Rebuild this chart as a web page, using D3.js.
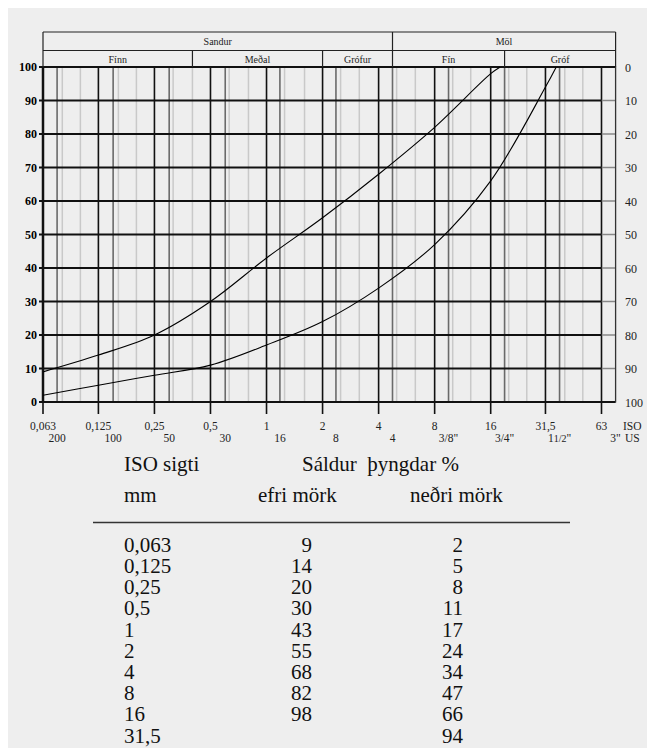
<!DOCTYPE html>
<html>
<head>
<meta charset="utf-8">
<script src="https://cdn.jsdelivr.net/npm/d3@7"></script>
<style>
    body { margin: 0; background: #ffffff; }
    svg { display: block; }
</style>
</head>
<body>
<div id="plot"></div>
<script>
// ISO sieves (mm) - main grid lines and the upper label row
const iso_sieves = [0.063, 0.125, 0.25, 0.5, 1, 2, 4, 8, 16, 31.5, 63];
const iso_labels = ["0,063", "0,125", "0,25", "0,5", "1", "2", "4", "8", "16", "31,5", "63"];
// US sieves (mm) - dark gray lines and the lower label row
const us_sieves = [0.075, 0.15, 0.3, 0.6, 1.18, 2.36, 4.75, 9.5, 19, 37.5, 75];
const us_labels = ["200", "100", "50", "30", "16", "8", "4", "3/8\"", "3/4\"", "11/2\"", "3\""];
// intermediate sieves - light lines
const minor_sieves = [0.08, 0.1, 0.16, 0.2, 0.315, 0.4, 0.63, 0.8, 1.25, 1.6, 2.5, 3.15,
    5, 6.3, 10, 12.5, 20, 25, 40, 50];
const pct_ticks = [0, 10, 20, 30, 40, 50, 60, 70, 80, 90, 100];

// grading envelope (table + curves)
const table_sieves = [0.063, 0.125, 0.25, 0.5, 1, 2, 4, 8, 16, 31.5];
const table_labels = ["0,063", "0,125", "0,25", "0,5", "1", "2", "4", "8", "16", "31,5"];
const upper_pct = [9, 14, 20, 30, 43, 55, 68, 82, 98];
const lower_pct = [2, 5, 8, 11, 17, 24, 34, 47, 66, 94];
// where each curve reaches 100 %
const upper_end = [18, 100];
const lower_end = [36, 100];

// soil classes in the header
const main_classes = [
    { name: "Sandur", from: 0.063, to: 4.75 },
    { name: "Möl", from: 4.75, to: 75 }
];
const sub_classes = [
    { name: "Fínn", from: 0.063, to: 0.4 },
    { name: "Meðal", from: 0.4, to: 2 },
    { name: "Grófur", from: 2, to: 4.75 },
    { name: "Fín", from: 4.75, to: 19 },
    { name: "Gróf", from: 19, to: 75 }
];

const width = 647;
const height = 748;
const serif = "Liberation Serif, Times New Roman, serif";

const x = d3.scaleLog().domain([0.063, 63]).range([43, 601.5]);
const y = d3.scaleLinear().domain([0, 100]).range([402, 67]);
const x_end = x(75);

const svg = d3.select("#plot").append("svg")
    .attr("width", width)
    .attr("height", height)
    .attr("font-family", serif);

// gray page with a thin white margin top/left
svg.append("rect")
    .attr("x", 8).attr("y", 8)
    .attr("width", width - 8).attr("height", height - 8)
    .attr("fill", "#eeeeee");

/**
 * vertical sieve lines
 */
const vlines = function (values, color, w, y_bottom) {
    svg.append("g")
        .attr("stroke", color)
        .attr("stroke-width", w)
        .selectAll("line")
        .data(values)
        .join("line")
        .attr("x1", d => x(d)).attr("x2", d => x(d))
        .attr("y1", y(100)).attr("y2", y_bottom);
}
vlines(minor_sieves, "#c9c9c9", 1.5, y(0));
vlines(us_sieves.slice(0, -1), "#6a6a6a", 1.6, y(0));
vlines(iso_sieves, "#111", 1.6, y(0) + 12);

// horizontal lines: black over the ISO range, gray stub up to 3"
svg.append("g")
    .selectAll("line")
    .data(pct_ticks.filter(d => d > 0 && d < 100))
    .join("line")
    .attr("x1", x(63)).attr("x2", x_end)
    .attr("y1", d => y(d)).attr("y2", d => y(d))
    .attr("stroke", "#888").attr("stroke-width", 1.5);
svg.append("g")
    .selectAll("line")
    .data(pct_ticks)
    .join("line")
    .attr("x1", 39)
    .attr("x2", d => (d === 0 || d === 100) ? x_end : x(63))
    .attr("y1", d => y(d)).attr("y2", d => y(d))
    .attr("stroke", "#111").attr("stroke-width", 2);

// frame
svg.append("line")
    .attr("x1", x(0.063)).attr("x2", x(0.063))
    .attr("y1", y(100)).attr("y2", y(0))
    .attr("stroke", "#111").attr("stroke-width", 2.5);
svg.append("line")
    .attr("x1", x_end).attr("x2", x_end)
    .attr("y1", y(100) - 0.5).attr("y2", y(0) + 0.5)
    .attr("stroke", "#333").attr("stroke-width", 1.3);

// grading curves
const line = d3.line()
    .x(d => x(d[0]))
    .y(d => y(d[1]))
    .curve(d3.curveCatmullRom.alpha(0.5));
const upper_pts = upper_pct.map((v, i) => [table_sieves[i], v]).concat([upper_end]);
const lower_pts = lower_pct.map((v, i) => [table_sieves[i], v]).concat([lower_end]);
svg.append("g")
    .attr("fill", "none")
    .attr("stroke", "#000")
    .attr("stroke-width", 1.1)
    .selectAll("path")
    .data([upper_pts, lower_pts])
    .join("path")
    .attr("d", line);

// header boxes
const head_top = 32, head_mid = 50.5, head_bot = y(100);
const head = svg.append("g").attr("stroke", "#222").attr("stroke-width", 1.2);
head.append("line").attr("x1", x(0.063)).attr("x2", x_end).attr("y1", head_top).attr("y2", head_top);
head.append("line").attr("x1", x(0.063)).attr("x2", x_end).attr("y1", head_mid).attr("y2", head_mid);
head.selectAll("line.main")
    .data([0.063, 4.75, 75])
    .join("line").attr("class", "main")
    .attr("x1", d => x(d)).attr("x2", d => x(d))
    .attr("y1", head_top).attr("y2", head_bot);
head.selectAll("line.sub")
    .data([0.4, 2, 19])
    .join("line").attr("class", "sub")
    .attr("x1", d => x(d)).attr("x2", d => x(d))
    .attr("y1", head_mid).attr("y2", head_bot);

svg.append("g")
    .attr("font-size", 10)
    .attr("text-anchor", "middle")
    .attr("fill", "#222")
    .selectAll("text")
    .data(main_classes)
    .join("text")
    .attr("x", d => (x(d.from) + x(d.to)) / 2)
    .attr("y", 45)
    .text(d => d.name);
svg.append("g")
    .attr("font-size", 10)
    .attr("text-anchor", "middle")
    .attr("fill", "#222")
    .selectAll("text")
    .data(sub_classes)
    .join("text")
    .attr("x", d => (x(d.from) + x(d.to)) / 2)
    .attr("y", 62.5)
    .text(d => d.name);

// y labels: passing % left (bold), retained % right
svg.append("g")
    .attr("font-size", 12)
    .attr("font-weight", "bold")
    .attr("text-anchor", "end")
    .selectAll("text")
    .data(pct_ticks)
    .join("text")
    .attr("x", 37)
    .attr("y", d => y(d))
    .attr("dy", "0.35em")
    .text(d => d);
svg.append("g")
    .attr("font-size", 12)
    .attr("fill", "#222")
    .selectAll("text")
    .data(pct_ticks)
    .join("text")
    .attr("x", 625)
    .attr("y", d => y(d))
    .attr("dy", "0.4em")
    .text(d => 100 - d);

// x labels: ISO row and US row
svg.append("g")
    .attr("font-size", 11.5)
    .attr("text-anchor", "middle")
    .attr("fill", "#222")
    .selectAll("text")
    .data(iso_sieves)
    .join("text")
    .attr("x", d => x(d))
    .attr("y", 430)
    .text((d, i) => iso_labels[i]);
svg.append("g")
    .attr("font-size", 11.5)
    .attr("text-anchor", "middle")
    .attr("fill", "#222")
    .selectAll("text")
    .data(us_sieves)
    .join("text")
    .attr("x", d => x(d))
    .attr("y", 442)
    .each(function (d, i) {
        const t = d3.select(this);
        const lab = us_labels[i];
        if (lab === "11/2\"") {
            t.append("tspan").text("1");
            t.append("tspan").attr("font-size", 10).text("1/2");
            t.append("tspan").text("\"");
        } else {
            t.text(lab);
        }
    });
svg.append("text").attr("x", 623).attr("y", 430).attr("font-size", 11.5).attr("fill", "#222").text("ISO");
svg.append("text").attr("x", 625).attr("y", 442).attr("font-size", 11.5).attr("fill", "#222").text("US");

// table
const tbl = svg.append("g").attr("font-size", 21).attr("fill", "#111");
tbl.append("text").attr("x", 124).attr("y", 471).text("ISO sigti");
tbl.append("text").attr("x", 302).attr("y", 471).attr("xml:space", "preserve")
    .style("white-space", "pre").text("Sáldur  þyngdar %");
tbl.append("text").attr("x", 124).attr("y", 502).text("mm");
tbl.append("text").attr("x", 258).attr("y", 502).text("efri mörk");
tbl.append("text").attr("x", 410).attr("y", 502).text("neðri mörk");
tbl.append("line")
    .attr("x1", 93).attr("x2", 570)
    .attr("y1", 522.5).attr("y2", 522.5)
    .attr("stroke", "#333").attr("stroke-width", 1.6);

const row_y = i => 551.7 + i * 21.2;
tbl.append("g").selectAll("text")
    .data(table_labels)
    .join("text")
    .attr("x", 124)
    .attr("y", (d, i) => row_y(i))
    .text(d => d);
tbl.append("g").attr("text-anchor", "end").selectAll("text")
    .data(upper_pct)
    .join("text")
    .attr("x", 312)
    .attr("y", (d, i) => row_y(i))
    .text(d => d);
tbl.append("g").attr("text-anchor", "end").selectAll("text")
    .data(lower_pct)
    .join("text")
    .attr("x", 463)
    .attr("y", (d, i) => row_y(i))
    .text(d => d);
</script>
</body>
</html>
